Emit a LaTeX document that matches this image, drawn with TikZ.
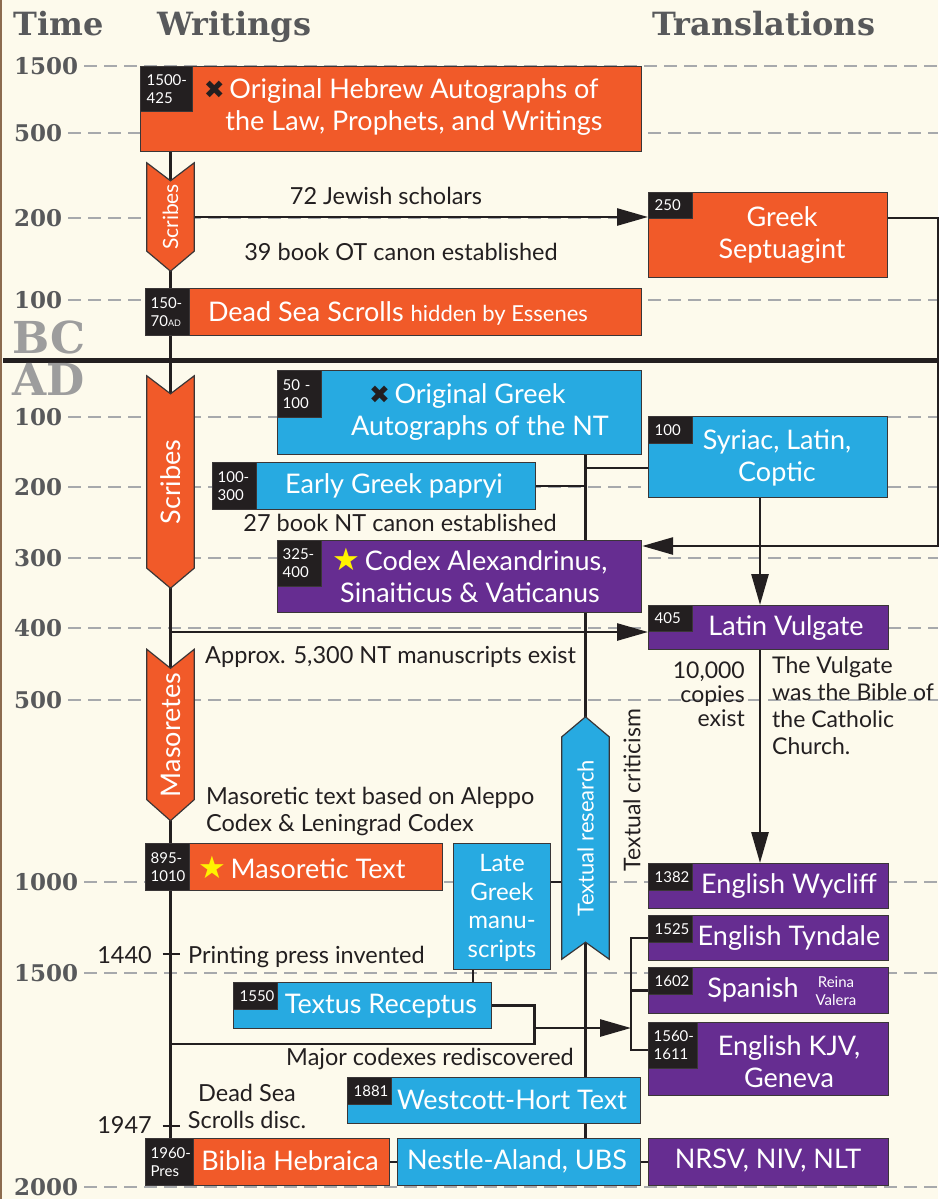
\documentclass[tikz,border=0pt]{standalone}
\usepackage{fontspec}
\setmainfont{Lato}
\newfontfamily\slab{DejaVu Serif}
\newfontfamily\symf{DejaVu Sans}
\usetikzlibrary{arrows.meta,calc}
\definecolor{bgc}{HTML}{FDFAEC}
\definecolor{orng}{HTML}{F15A29}
\definecolor{blu}{HTML}{27AAE1}
\definecolor{purp}{HTML}{662D91}
\definecolor{tagc}{HTML}{231F20}
\definecolor{txtc}{HTML}{231F20}
\definecolor{headc}{HTML}{58595B}
\definecolor{dashc}{HTML}{A7A9AC}
\definecolor{bcadc}{HTML}{9D9D9D}
\definecolor{boxl}{HTML}{3A3637}
\definecolor{starc}{HTML}{FFF200}
\definecolor{edgec}{HTML}{8C6B4F}
\pgfdeclarelayer{bgl}\pgfdeclarelayer{grid}\pgfdeclarelayer{conn}\pgfdeclarelayer{shp}
\pgfsetlayers{bgl,grid,conn,shp,main}
\newcommand\xmark{{\symf\fontsize{25}{25}\selectfont\textcolor{tagc}{✖}}}
\newcommand\ystar{{\symf\fontsize{31}{31}\selectfont\textcolor{starc}{★}}}
\newcommand\tl[2]{\mbox{#1}\\\mbox{#2}}
\begin{document}
\begin{tikzpicture}[x=1pt,y=-1pt,
 box/.style={draw=boxl,line width=1.2pt,inner sep=0pt,anchor=north west},
 tag/.style={fill=tagc,draw=boxl,line width=1.2pt,text=white,inner sep=0pt,anchor=north west,align=left,font=\fontsize{15}{18}\selectfont},
 btxt/.style={text=white,inner sep=0pt,align=center,font=\fontsize{27}{32}\selectfont},
 lbl/.style={text=txtc,inner sep=0pt,font=\fontsize{23.5}{27}\selectfont},
 conn/.style={draw=tagc,line width=2.7pt},
 arr/.style={conn,-{Triangle[length=31pt,width=17pt]}},
 yr/.style={text=headc,inner sep=0pt,anchor=west,font=\slab\bfseries\fontsize{23}{23}\selectfont},
 head/.style={text=headc,inner sep=0pt,anchor=base west,font=\slab\bfseries\fontsize{32}{32}\selectfont},
 gridl/.style={draw=dashc,line width=1.5pt,dash pattern=on 13pt off 7pt},
 chev/.style={minimum width=47pt,inner sep=0pt,text=white},
 chevshape/.style={draw=boxl,line width=1.2pt},
 bcad/.style={text=bcadc,inner sep=0pt,anchor=base west,font=\slab\bfseries\fontsize{44}{44}\selectfont}
]
\useasboundingbox (0,0) rectangle (938,1199);
\begin{pgfonlayer}{bgl}
\fill[bgc] (0,0) rectangle (938,1199);
\draw[edgec,line width=1.5pt] (1,0) -- (1,1199);
\end{pgfonlayer}
\coordinate (R) at (938,0);
\coordinate (tlx) at (170.5,0);
\coordinate (ntx) at (585.5,0);
\coordinate (vx) at (760,0);
\coordinate (lx) at (473,0);
\coordinate (bx) at (631,0);

% headings
\node[head] (hTime) at (13,36) {Time};
\node[head] (hWrit) at (157,36) {Writings};
\node[head] (hTrans) at (652,36) {Translations};

% year labels
\node[yr] (yb1500) at (14,66) {1500};
\node[yr] (yb500) at (14,133) {500};
\node[yr] (yb200) at (14,218) {200};
\node[yr] (yb100) at (14,300) {100};
\node[yr] (ya100) at (14,417) {100};
\node[yr] (ya200) at (14,487) {200};
\node[yr] (ya300) at (14,558) {300};
\node[yr] (ya400) at (14,628) {400};
\node[yr] (ya500) at (14,700) {500};
\node[yr] (ya1000) at (14,882) {1000};
\node[yr] (ya1500) at (14,973) {1500};
\node[yr] (ya2000) at (14,1187) {2000};
\node[bcad] (bc) at (12,353) {BC};
\node[bcad] (ad) at (12,395) {AD};

% ---------- Writings column (BC) ----------
\node[box,fill=orng,minimum width=501pt,minimum height=85pt] (heb) at (140,66) {};
\node[tag,minimum width=52pt,minimum height=45pt,text width=40pt] (hebt) at (140,66) {\tl{1500-}{425}};
\node[btxt] (hebx) at (414,107) {\llap{\xmark\,}Original Hebrew Autographs of\\the Law, Prophets, and Writings};

\node[chev,minimum height=108pt,font=\fontsize{21}{21}\selectfont] (scrA) at (170.5,217) {\rotatebox{90}{Scribes}};

\node[box,fill=orng,minimum width=239pt,minimum height=85pt] (sept) at (648,192) {};
\node[tag,minimum width=44pt,minimum height=26pt,text width=32pt] (septt) at (648,192) {250};
\node[btxt] (septx) at (782,235) {Greek\\Septuagint};

\node[lbl] (l72) at (386,196) {72 Jewish scholars};
\node[lbl] (l39) at (401,252) {39 book OT canon established};

\node[box,fill=orng,minimum width=496pt,minimum height=47pt] (dss) at (145,288) {};
\node[tag,minimum width=44pt,minimum height=47pt,text width=34pt] (dsst) at (145,288) {\tl{150-}{70{\fontsize{9}{9}\selectfont AD}}};
\node[btxt] (dssx) at (398,313) {Dead Sea Scrolls {\fontsize{22}{26}\selectfont hidden by Essenes}};

% ---------- AD ----------
\node[chev,minimum height=212pt,font=\fontsize{27}{27}\selectfont] (scrB) at (170.5,482) {\rotatebox{90}{Scribes}};

\node[box,fill=blu,minimum width=364pt,minimum height=84pt] (gka) at (277,370) {};
\node[tag,minimum width=44pt,minimum height=47pt,text width=34pt] (gkat) at (277,370) {\tl{50 -}{100}};
\node[btxt] (gkax) at (480,412) {\llap{\xmark\,}Original Greek\\Autographs of the NT};

\node[box,fill=blu,minimum width=239pt,minimum height=81pt] (syr) at (648,416) {};
\node[tag,minimum width=44pt,minimum height=27pt,text width=32pt] (syrt) at (648,416) {100};
\node[btxt] (syrx) at (777,458) {Syriac, Latin,\\Coptic};

\node[box,fill=blu,minimum width=323pt,minimum height=47pt] (egp) at (212,462) {};
\node[tag,minimum width=44pt,minimum height=47pt,text width=34pt] (egpt) at (212,462) {\tl{100-}{300}};
\node[btxt] (egpx) at (394,486) {Early Greek papryi};

\node[lbl] (l27) at (400,523) {27 book NT canon established};

\node[box,fill=purp,minimum width=364pt,minimum height=72pt] (codex) at (277,540) {};
\node[tag,minimum width=44pt,minimum height=46pt,text width=34pt] (codext) at (277,540) {\tl{325-}{400}};
\node[btxt] (codexx) at (470,575) {\ystar\,Codex Alexandrinus,\\Sinaiticus \& Vaticanus};

\node[box,fill=purp,minimum width=240pt,minimum height=44pt] (vul) at (648,605) {};
\node[tag,minimum width=44pt,minimum height=26pt,text width=32pt] (vult) at (648,605) {405};
\node[btxt] (vulx) at (786,628) {Latin Vulgate};

\node[lbl,anchor=west] (lapprox) at (205,657) {Approx. 5,300 NT manuscripts exist};
\node[lbl,anchor=east,align=right,font=\fontsize{23}{24}\selectfont] (lcopies) at (745,694) {10,000\\copies\\exist};
\node[lbl,anchor=west,align=left,font=\fontsize{23}{27}\selectfont] (lvulg) at (772,706) {The Vulgate\\was the Bible of\\the Catholic\\Church.};

\node[chev,minimum height=171pt,font=\fontsize{27}{27}\selectfont] (masA) at (170.5,735) {\rotatebox{90}{Masoretes}};
\node[lbl,anchor=west,align=left] (lmas) at (206,811) {Masoretic text based on Aleppo\\Codex \& Leningrad Codex};

\node[box,fill=orng,minimum width=297pt,minimum height=47pt] (mt) at (145,843) {};
\node[tag,minimum width=44pt,minimum height=47pt,text width=34pt] (mtt) at (145,843) {\tl{895-}{1010}};
\node[btxt] (mtx) at (302,867) {\ystar\,Masoretic Text};

\node[box,fill=blu,minimum width=97pt,minimum height=126pt] (lgm) at (453,843) {};
\node[btxt,font=\fontsize{24}{28.7}\selectfont] (lgmx) at (502,908) {Late\\Greek\\manu-\\scripts};

\node[chev,minimum height=242pt,font=\fontsize{22}{22}\selectfont] (trch) at (585.5,838) {\rotatebox{90}{Textual research}};
\node[lbl,font=\fontsize{23}{27}\selectfont] (tcrit) at (632,790) {\rotatebox{90}{Textual criticism}};

\node[box,fill=purp,minimum width=240pt,minimum height=45pt] (wyc) at (648,863) {};
\node[tag,minimum width=44pt,minimum height=27pt,text width=32pt] (wyct) at (648,863) {1382};
\node[btxt] (wycx) at (789,886) {English Wycliff};

\node[box,fill=purp,minimum width=240pt,minimum height=45pt] (tyn) at (648,915) {};
\node[tag,minimum width=44pt,minimum height=27pt,text width=32pt] (tynt) at (648,915) {1525};
\node[btxt] (tynx) at (789,938) {English Tyndale};

\node[box,fill=purp,minimum width=240pt,minimum height=46pt] (spa) at (648,967) {};
\node[tag,minimum width=44pt,minimum height=27pt,text width=32pt] (spat) at (648,967) {1602};
\node[btxt] (spax) at (753,990) {Spanish};
\node[btxt,font=\fontsize{15}{17.5}\selectfont] (spar) at (836,991) {Reina\\Valera};

\node[box,fill=purp,minimum width=240pt,minimum height=73pt] (kjv) at (648,1022) {};
\node[tag,minimum width=49pt,minimum height=46pt,text width=39pt] (kjvt) at (648,1022) {\tl{1560-}{1611}};
\node[btxt] (kjvx) at (789,1062) {English KJV,\\Geneva};

\coordinate (t1440) at (170.5,954);
\node[lbl,anchor=east] (l1440) at (152,955) {1440};
\node[lbl,anchor=west] (lprint) at (188,957) {Printing press invented};

\node[box,fill=blu,minimum width=258pt,minimum height=46pt] (tr) at (233,982) {};
\node[tag,minimum width=44pt,minimum height=27pt,text width=32pt] (trt) at (233,982) {1550};
\node[btxt] (trx) at (381,1006) {Textus Receptus};

\node[lbl] (lmajor) at (430,1059) {Major codexes rediscovered};
\node[lbl,align=center] (ldss) at (247,1106) {Dead Sea\\Scrolls disc.};
\coordinate (t1947) at (170.5,1126);
\node[lbl,anchor=east] (l1947) at (152,1125) {1947};

\node[box,fill=blu,minimum width=293pt,minimum height=46pt] (wh) at (347,1077) {};
\node[tag,minimum width=44pt,minimum height=27pt,text width=32pt] (wht) at (347,1077) {1881};
\node[btxt] (whx) at (512,1100) {Westcott-Hort Text};

\node[box,fill=orng,minimum width=244pt,minimum height=47pt] (bh) at (145,1138) {};
\node[tag,minimum width=48pt,minimum height=47pt,text width=38pt] (bht) at (145,1138) {\tl{1960-}{Pres}};
\node[btxt] (bhx) at (290,1161) {Biblia Hebraica};

\node[box,fill=blu,minimum width=243pt,minimum height=47pt] (na) at (397,1138) {};
\node[btxt] (nax) at (517,1161) {Nestle-Aland, UBS};

\node[box,fill=purp,minimum width=240pt,minimum height=47pt] (nrsv) at (648,1138) {};
\node[btxt] (nrsvx) at (768,1161) {NRSV, NIV, NLT};

% ---------- chevron shapes ----------
\begin{pgfonlayer}{shp}
\filldraw[chevshape,fill=orng] (scrA.north west) -- ([yshift=-18pt]scrA.north) -- (scrA.north east) -- ([yshift=20pt]scrA.south east) -- (scrA.south) -- ([yshift=20pt]scrA.south west) -- cycle;
\filldraw[chevshape,fill=orng] (scrB.north west) -- ([yshift=-18pt]scrB.north) -- (scrB.north east) -- ([yshift=20pt]scrB.south east) -- (scrB.south) -- ([yshift=20pt]scrB.south west) -- cycle;
\filldraw[chevshape,fill=orng] (masA.north west) -- ([yshift=-19pt]masA.north) -- (masA.north east) -- ([yshift=21pt]masA.south east) -- (masA.south) -- ([yshift=21pt]masA.south west) -- cycle;
\filldraw[chevshape,fill=blu] (trch.north) -- ([yshift=-20pt]trch.north east) -- (trch.south east) -- ([yshift=17pt]trch.south) -- (trch.south west) -- ([yshift=-20pt]trch.north west) -- cycle;
\end{pgfonlayer}

% ---------- dashed time lines ----------
\begin{pgfonlayer}{grid}
\foreach \n in {yb1500,yb500,yb200,yb100,ya100,ya200,ya300,ya400,ya500,ya1000,ya1500,ya2000}
  \draw[gridl] ([xshift=6pt]\n.east) -- (\n.east -| R);
\end{pgfonlayer}

% ---------- connectors ----------
\begin{pgfonlayer}{conn}
\draw[tagc,line width=5pt] (3,360) -- (R |- 0,360);
\draw[conn] (heb.south -| tlx) -- (bh.north -| tlx);
\draw[conn] ([xshift=-8pt]t1440) -- ([xshift=9pt]t1440);
\draw[conn] ([xshift=-8pt]t1947) -- ([xshift=9pt]t1947);
\draw[arr] (scrA.east) -- (scrA.east -| sept.west);
\draw[arr] ([yshift=-26pt]sept.north east) -- ++(50,0) |- ([yshift=-6pt]codex.north east);
\draw[conn] (gka.south -| ntx) -- (na.north -| ntx);
\draw[conn] (egp.east) -- (egp.east -| ntx);
\coordinate (syin) at ([yshift=-52pt]syr.north west);
\draw[conn] (syin) -- (syin -| ntx);
\draw[arr] (syr.south -| vx) -- (vul.north -| vx);
\coordinate (vin) at ([yshift=-27pt]vul.north west);
\draw[arr] (vin -| tlx) -- (vin);
\draw[arr] (vul.south -| vx) -- (wyc.north -| vx);
\coordinate (lgout) at ([yshift=-39pt]lgm.north east);
\draw[conn] (lgout) -- (lgout -| trch.west);
\draw[conn] (lgm.south -| lx) -- (tr.north -| lx);
\coordinate (j1) at (534.5,1044);
\draw[conn] (tr.east) -| (j1) -- (j1 -| tlx);
\coordinate (kin) at (631,1028);
\draw[arr] (kin -| j1) -- (kin);
\coordinate (kjin) at ([yshift=-28pt]kjv.north west);
\draw[conn] (tyn.west) -| (kjin -| bx) -- (kjin);
\draw[conn] (spa.west) -- (spa.west -| bx);
\draw[conn] (bh.east) -- (na.west);
\draw[conn] (na.east) -- (nrsv.west);
\end{pgfonlayer}
\end{tikzpicture}
\end{document}
